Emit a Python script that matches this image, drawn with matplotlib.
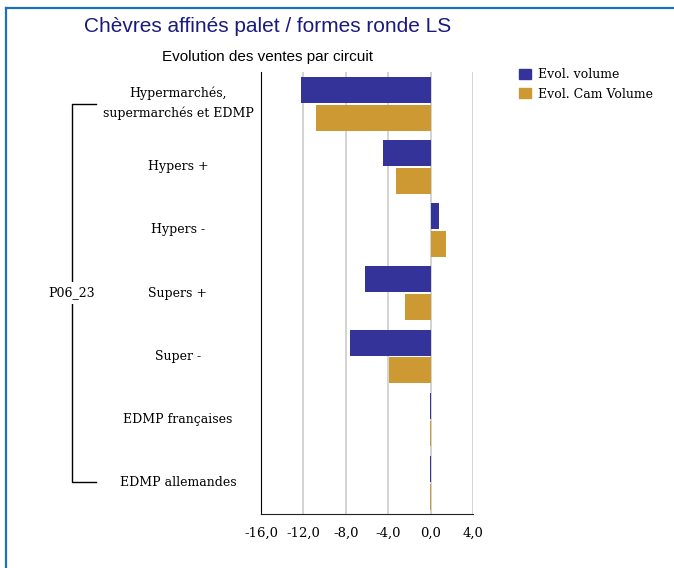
import numpy as np
import matplotlib.pyplot as plt
import matplotlib.transforms as mtransforms
from matplotlib.lines import Line2D
from matplotlib.patches import Patch

categories = ['Hypermarchés,\nsupermarchés et EDMP', 'Hypers +', 'Hypers -',
              'Supers +', 'Super -', 'EDMP françaises', 'EDMP allemandes']
evol_volume = [-12.2, -4.5, 0.8, -6.2, -7.6, -0.08, -0.08]
evol_cam_volume = [-10.8, -3.3, 1.45, -2.4, -3.9, -0.08, -0.08]
group_label = 'P06_23'
xticks = [-16, -12, -8, -4, 0, 4]

blue = '#333399'
gold = '#cc9933'
serif = ['DejaVu Serif']
sans = ['Liberation Sans', 'DejaVu Sans']

W, H = 674, 568
fig = plt.figure(figsize=(W / 100, H / 100), dpi=100)
ax = fig.add_axes([261 / W, 1 - 514 / H, 212 / W, 442 / H])

y = np.arange(len(categories))
ax.barh(y - 0.215, evol_volume, height=0.41, color=blue, label='Evol. volume', zorder=3)
ax.barh(y + 0.225, evol_cam_volume, height=0.41, color=gold, label='Evol. Cam Volume', zorder=3)

ax.set_xlim(-16, 4)
ax.set_ylim(len(categories) - 0.5, -0.5)
ax.set_xticks(xticks)
ax.set_xticklabels([('%.1f' % v).replace('.', ',') for v in xticks], fontfamily=serif, fontsize=9.5)
ax.set_yticks([])
ax.tick_params(axis='x', length=0, pad=9)
ax.grid(axis='x', color='#cccccc', linewidth=1.2, zorder=0)
ax.spines['top'].set_visible(False)
ax.spines['right'].set_visible(False)
ax.spines['left'].set_color('black')
ax.spines['bottom'].set_color('#222222')

# category labels, x in figure px, y in data
trans = mtransforms.blended_transform_factory(fig.transFigure, ax.transData)
for i, c in enumerate(categories):
    ax.text(178 / W, i, c, transform=trans, ha='center', va='center',
            fontfamily=serif, fontsize=9, linespacing=1.6, clip_on=False)

# bracket for the period
bx, bx2 = 72 / W, 96 / W
ax.add_line(Line2D([bx2, bx, bx, bx2], [0, 0, len(categories) - 1, len(categories) - 1],
                   transform=trans, color='black', lw=1, clip_on=False))
ax.text(bx, (len(categories) - 1) / 2, group_label, transform=trans, ha='center', va='center',
        fontfamily=serif, fontsize=9, clip_on=False,
        bbox=dict(facecolor='white', edgecolor='none', pad=3))

fig.text(268 / W, 1 - 27 / H, 'Chèvres affinés palet / formes ronde LS', ha='center', va='center',
         color='#1a1a80', fontsize=15, family=sans)
fig.text(268 / W, 1 - 57 / H, 'Evolution des ventes par circuit', ha='center', va='center',
         color='black', fontsize=11, family=sans)

handles = [Patch(color=blue, label='Evol. volume'), Patch(color=gold, label='Evol. Cam Volume')]
fig.legend(handles=handles, loc='upper left', bbox_to_anchor=(513 / W, 1 - 62 / H),
           frameon=False, prop={'family': serif, 'size': 9}, handlelength=0.9,
           handleheight=0.9, handletextpad=0.6, labelspacing=0.5, borderpad=0)

# blue frame
fig.add_artist(Line2D([6 / W, 6 / W], [0, 1 - 8 / H], color='#1f6fc0', lw=1.6))
fig.add_artist(Line2D([6 / W, 1], [1 - 8 / H, 1 - 8 / H], color='#1f6fc0', lw=1.6))

fig.savefig('out.png', dpi=100)
